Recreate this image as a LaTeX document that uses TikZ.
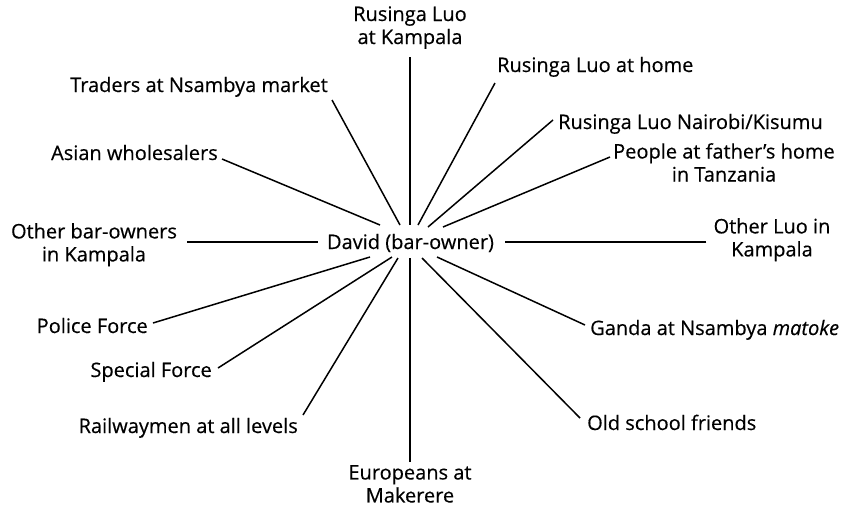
\documentclass[tikz,border=0pt]{standalone}
\usepackage{fontspec}
\setmainfont{Open Sans}[UprightFeatures={FakeBold=0.4},ItalicFeatures={FakeBold=0.4}]
\begin{document}
\begin{tikzpicture}[x=1pt,y=-1pt,
  lbl/.style={inner sep=0pt, font=\fontsize{20}{23}\selectfont, align=center},
  link/.style={line width=1.5pt, black}]
\useasboundingbox (0,0) rectangle (841,507);
\node[lbl, anchor=base] (david) at (410.5,249) {David (bar-owner)};
\node[lbl, anchor=south] (rkamp) at (410,49) {Rusinga Luo\\at Kampala};
\node[lbl, anchor=base west] (rhome) at (497,72) {Rusinga Luo at home};
\node[lbl, anchor=base west] (rnk) at (558,129) {Rusinga Luo Nairobi/Kisumu};
\node[lbl, anchor=north] (people) at (724,143) {People at father's home\\in Tanzania};
\node[lbl, anchor=north] (oluo) at (772,218) {Other Luo in\\Kampala};
\node[lbl, anchor=base west] (ganda) at (590,335) {Ganda at Nsambya \textit{matoke}};
\node[lbl, anchor=base west] (old) at (587,430) {Old school friends};
\node[lbl, anchor=north] (euro) at (410,465) {Europeans at\\Makerere};
\node[lbl, anchor=base east] (rail) at (298,433) {Railwaymen at all levels};
\node[lbl, anchor=base east] (special) at (212,377) {Special Force};
\node[lbl, anchor=base east] (police) at (148,333) {Police Force};
\node[lbl, anchor=north] (obar) at (94,223) {Other bar-owners\\in Kampala};
\node[lbl, anchor=base east] (asian) at (218,160) {Asian wholesalers};
\node[lbl, anchor=base east] (trad) at (328,92) {Traders at Nsambya market};

\draw[link] ([yshift=-8pt]rkamp.south) -- ([xshift=-0.5pt,yshift=24pt]david.base);
\draw[link] ([xshift=-2pt,yshift=-11pt]rhome.base west) -- ([xshift=7.5pt,yshift=24pt]david.base);
\draw[link] ([xshift=-5pt,yshift=9pt]rnk.base west) -- ([xshift=17.5pt,yshift=22pt]david.base);
\draw[link] ([xshift=-3pt,yshift=-14pt]people.north west) -- ([xshift=32.5pt,yshift=22pt]david.base);
\draw[link] ([xshift=-7pt,yshift=-24pt]oluo.north west) -- ([xshift=94.5pt,yshift=7pt]david.base);
\draw[link] ([xshift=-5pt,yshift=10pt]ganda.base west) -- ([xshift=26.5pt,yshift=-8pt]david.base);
\draw[link] ([xshift=-7pt,yshift=12pt]old.base west) -- ([xshift=11.5pt,yshift=-9pt]david.base);
\draw[link] ([yshift=3pt]euro.north) -- ([xshift=-0.5pt,yshift=-9pt]david.base);
\draw[link] ([xshift=5pt,yshift=18pt]rail.base east) -- ([xshift=-12.5pt,yshift=-9pt]david.base);
\draw[link] ([xshift=6pt,yshift=9pt]special.base east) -- ([xshift=-18.5pt,yshift=-8pt]david.base);
\draw[link] ([xshift=5pt,yshift=10pt]police.base east) -- ([xshift=-40.5pt,yshift=-8pt]david.base);
\draw[link] ([xshift=10pt,yshift=-19pt]obar.north east) -- ([xshift=-92.5pt,yshift=7pt]david.base);
\draw[link] ([xshift=4pt,yshift=1pt]asian.base east) -- ([xshift=-30.5pt,yshift=24pt]david.base);
\draw[link] ([xshift=4pt,yshift=-8pt]trad.base east) -- ([xshift=-10.5pt,yshift=24pt]david.base);
\end{tikzpicture}
\end{document}
